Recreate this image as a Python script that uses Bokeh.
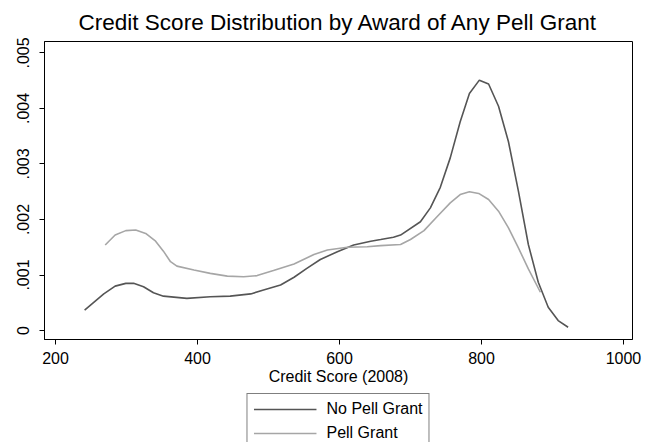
from bokeh.plotting import figure
from bokeh.layouts import column
from bokeh.models import Range1d, FixedTicker, CustomJSTickFormatter, Legend, LegendItem
from bokeh.embed import file_html
from bokeh.resources import INLINE

# ---- data ----
no_pell_x = [241, 268, 284, 299, 310, 324, 338, 352, 385, 418, 446, 475, 493, 517,
             536, 554, 573, 597, 620, 644, 658, 676, 686, 714, 728, 742, 756, 770,
             783, 797, 810, 824, 838, 852, 866, 880, 894, 908, 922]
no_pell_y = [0.00037, 0.00066, 0.00080, 0.00085, 0.00085, 0.00079, 0.00068, 0.00062,
             0.00058, 0.00061, 0.00062, 0.00066, 0.00073, 0.00082, 0.00096, 0.00112,
             0.00128, 0.00142, 0.00154, 0.00161, 0.00164, 0.00168, 0.00172, 0.00196,
             0.00221, 0.00258, 0.00311, 0.00376, 0.00427, 0.00451, 0.00444, 0.00404,
             0.00340, 0.00251, 0.00155, 0.00087, 0.00042, 0.00018, 0.00006]

pell_x = [270, 284, 299, 313, 327, 341, 352, 362, 371, 395, 418, 442, 465, 484, 507,
          536, 564, 583, 611, 639, 658, 686, 700, 719, 738, 756, 770, 783, 796, 810,
          824, 838, 852, 866, 883]
pell_y = [0.00154, 0.00172, 0.00180, 0.00181, 0.00175, 0.00161, 0.00143, 0.00124,
          0.00116, 0.00109, 0.00103, 0.00098, 0.00097, 0.00099, 0.00108, 0.00120,
          0.00137, 0.00145, 0.00150, 0.00151, 0.00153, 0.00155, 0.00164, 0.00180,
          0.00206, 0.00230, 0.00245, 0.00250, 0.00247, 0.00236, 0.00215, 0.00185,
          0.00149, 0.00111, 0.00069]

x_ticks = [200, 400, 600, 800, 1000]
y_ticks = [0, 0.001, 0.002, 0.003, 0.004, 0.005]

series_names = ["No Pell Grant", "Pell Grant"]
title_text = "Credit Score Distribution by Award of Any Pell Grant"
x_title = "Credit Score (2008)"

FONT = "Liberation Sans"
DARK = "#555555"
LIGHT = "#a6a6a6"

# ---- main plot ----
p = figure(width=647, height=393, output_backend="svg", toolbar_location=None,
           x_range=Range1d(184.5, 1012.7), y_range=Range1d(-0.000161, 0.005206),
           min_border_left=44, min_border_right=15, min_border_top=40, min_border_bottom=54,
           background_fill_color="white", border_fill_color="white")

p.line(no_pell_x, no_pell_y, line_color=DARK, line_width=1.6)
p.line(pell_x, pell_y, line_color=LIGHT, line_width=1.6)

p.grid.visible = False
p.outline_line_color = "black"
p.outline_line_width = 1

p.title.text = title_text
p.title.align = "center"
p.title.offset = 6
p.title.text_font = FONT
p.title.text_font_size = "22.5px"
p.title.text_font_style = "normal"
p.title.text_color = "black"
p.title.standoff = 14

for ax in (p.xaxis[0], p.yaxis[0]):
    ax.axis_line_color = "black"
    ax.major_tick_line_color = "black"
    ax.minor_tick_line_color = None
    ax.major_tick_out = 5
    ax.major_tick_in = 0
    ax.major_label_text_font = FONT
    ax.major_label_text_font_size = "16px"
    ax.major_label_text_color = "black"

p.xaxis[0].ticker = FixedTicker(ticks=x_ticks)
p.xaxis[0].major_label_standoff = 7
p.xaxis[0].axis_label = x_title
p.xaxis[0].axis_label_text_font = FONT
p.xaxis[0].axis_label_text_font_size = "16px"
p.xaxis[0].axis_label_text_font_style = "normal"
p.xaxis[0].axis_label_text_color = "black"
p.xaxis[0].axis_label_standoff = 1

p.yaxis[0].ticker = FixedTicker(ticks=y_ticks)
p.yaxis[0].formatter = CustomJSTickFormatter(
    code='return tick == 0 ? "0" : tick.toFixed(3).replace(/^0/, "");')
p.yaxis[0].major_label_orientation = "vertical"
p.yaxis[0].major_label_standoff = 10

# ---- legend strip below the plot (same borders as the plot so frames align) ----
leg = figure(width=647, height=49, output_backend="svg", toolbar_location=None,
             x_range=Range1d(0, 1), y_range=Range1d(0, 1),
             x_axis_location=None, y_axis_location=None,
             min_border_left=44, min_border_right=15, min_border_top=0, min_border_bottom=0,
             background_fill_color="white", border_fill_color="white")
leg.grid.visible = False
leg.outline_line_color = None
# same series, outside this strip's ranges: only their legend swatches show
k1 = leg.line(no_pell_x, no_pell_y, line_color=DARK, line_width=1.6)
k2 = leg.line(pell_x, pell_y, line_color=LIGHT, line_width=1.6)

legend = Legend(items=[LegendItem(label=series_names[0], renderers=[k1]),
                       LegendItem(label=series_names[1], renderers=[k2])],
                orientation="vertical", location="top_center",
                border_line_color="black", border_line_width=1,
                background_fill_color="white", background_fill_alpha=1,
                label_text_font=FONT, label_text_font_size="16px",
                label_text_color="black",
                glyph_width=63, glyph_height=18, label_height=18,
                label_standoff=10, padding=6, spacing=6, margin=0)
leg.add_layout(legend, "center")

layout = column(p, leg, spacing=0)
open("out.html", "w").write(file_html(layout, INLINE))
